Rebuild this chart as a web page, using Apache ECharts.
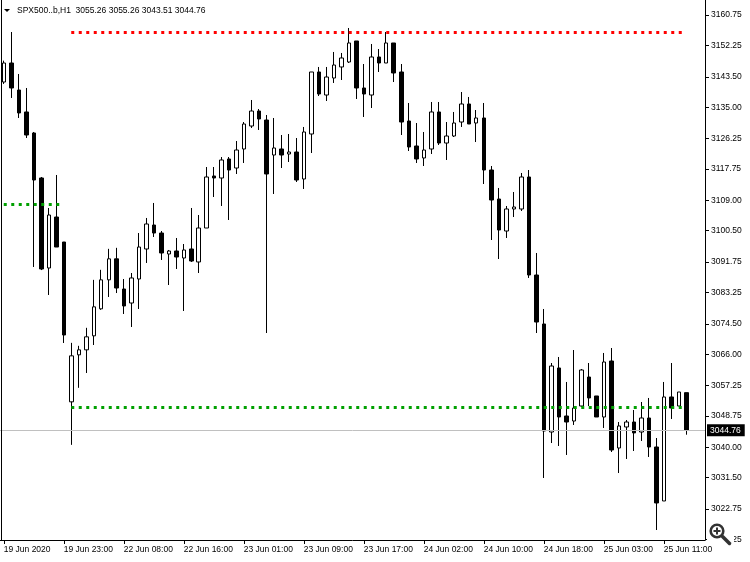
<!DOCTYPE html>
<html><head><meta charset="utf-8">
<script src="https://cdn.jsdelivr.net/npm/echarts@6/dist/echarts.min.js"></script>
<style>html,body{margin:0;padding:0;background:#fff}#c{width:750px;height:562px}</style>
</head><body><div id="c"></div>
<script>
const symbolName = 'SPX500..b,H1';
const times = [
"2020.06.19 15:00","2020.06.19 16:00","2020.06.19 17:00","2020.06.19 18:00","2020.06.19 19:00","2020.06.19 20:00","2020.06.19 21:00","2020.06.19 22:00","2020.06.19 23:00",
"2020.06.22 01:00","2020.06.22 02:00","2020.06.22 03:00","2020.06.22 04:00","2020.06.22 05:00","2020.06.22 06:00","2020.06.22 07:00","2020.06.22 08:00","2020.06.22 09:00","2020.06.22 10:00","2020.06.22 11:00","2020.06.22 12:00","2020.06.22 13:00","2020.06.22 14:00","2020.06.22 15:00","2020.06.22 16:00","2020.06.22 17:00","2020.06.22 18:00","2020.06.22 19:00","2020.06.22 20:00","2020.06.22 21:00","2020.06.22 22:00","2020.06.22 23:00",
"2020.06.23 01:00","2020.06.23 02:00","2020.06.23 03:00","2020.06.23 04:00","2020.06.23 05:00","2020.06.23 06:00","2020.06.23 07:00","2020.06.23 08:00","2020.06.23 09:00","2020.06.23 10:00","2020.06.23 11:00","2020.06.23 12:00","2020.06.23 13:00","2020.06.23 14:00","2020.06.23 15:00","2020.06.23 16:00","2020.06.23 17:00","2020.06.23 18:00","2020.06.23 19:00","2020.06.23 20:00","2020.06.23 21:00","2020.06.23 22:00","2020.06.23 23:00",
"2020.06.24 01:00","2020.06.24 02:00","2020.06.24 03:00","2020.06.24 04:00","2020.06.24 05:00","2020.06.24 06:00","2020.06.24 07:00","2020.06.24 08:00","2020.06.24 09:00","2020.06.24 10:00","2020.06.24 11:00","2020.06.24 12:00","2020.06.24 13:00","2020.06.24 14:00","2020.06.24 15:00","2020.06.24 16:00","2020.06.24 17:00","2020.06.24 18:00","2020.06.24 19:00","2020.06.24 20:00","2020.06.24 21:00","2020.06.24 22:00","2020.06.24 23:00",
"2020.06.25 01:00","2020.06.25 02:00","2020.06.25 03:00","2020.06.25 04:00","2020.06.25 05:00","2020.06.25 06:00","2020.06.25 07:00","2020.06.25 08:00","2020.06.25 09:00","2020.06.25 10:00","2020.06.25 11:00","2020.06.25 12:00","2020.06.25 13:00","2020.06.25 14:00"
];
const opens = [
3142.03,3147.34,3139.80,3133.66,3127.79,3115.22,3090.08,3104.32,3097.34,3052.69,
3065.82,3067.22,3071.13,3078.67,3086.77,3092.64,3084.21,3080.30,3087.01,3095.39,
3102.09,3099.85,3093.99,3094.83,3092.87,3095.39,3091.76,3101.25,3115.78,3115.22,
3120.53,3118.01,3123.32,3129.74,3133.93,3131.42,3121.64,3123.32,3121.92,3122.48,
3114.94,3127.51,3144.83,3138.40,3143.15,3146.23,3147.62,3153.49,3140.36,3138.40,
3149.02,3147.34,3152.93,3144.83,3131.14,3124.16,3120.81,3123.32,3133.66,3124.99,
3126.95,3130.86,3135.89,3130.58,3131.98,3117.45,3109.35,3100.41,3106.56,3106.56,
3115.50,3088.12,3074.44,3044.27,3062.15,3048.74,3047.34,3051.53,3059.63,3054.33,
3048.46,3064.10,3039.80,3045.67,3047.06,3044.27,3048.18,3040.08,3025.00,3054.05,
3051.53,3055.26
];
const closes = [
3147.34,3140.36,3133.38,3127.23,3114.66,3089.80,3104.88,3095.94,3071.36,3065.54,
3067.22,3070.85,3079.23,3086.77,3092.64,3084.49,3079.47,3087.29,3095.94,3102.37,
3099.85,3094.27,3094.83,3093.15,3095.11,3092.03,3101.25,3115.50,3115.22,3120.25,
3117.45,3123.04,3130.30,3133.93,3131.70,3116.34,3123.60,3121.64,3122.48,3114.66,
3128.07,3144.83,3138.68,3143.43,3146.78,3148.74,3152.93,3140.36,3138.68,3149.02,
3147.34,3152.93,3144.55,3130.86,3123.88,3120.53,3123.04,3133.66,3124.99,3126.95,
3130.58,3135.89,3130.30,3131.98,3117.45,3109.07,3100.69,3106.56,3107.12,3115.50,
3088.12,3074.99,3044.55,3062.70,3048.46,3047.06,3050.97,3061.59,3053.77,3048.46,
3063.82,3039.24,3045.95,3047.06,3044.01,3048.18,3040.08,3024.44,3054.05,3050.97,
3055.44,3044.76
];
const lows = [
3141.50,3137.57,3131.98,3126.39,3090.36,3089.50,3082.54,3095.94,3069.13,3040.68,
3056.61,3060.75,3068.57,3078.39,3081.98,3083.09,3077.23,3073.60,3078.63,3091.48,
3098.74,3092.32,3085.33,3089.80,3078.07,3091.76,3088.68,3101.25,3109.91,3107.40,
3103.49,3116.34,3119.41,3129.19,3128.63,3071.92,3110.75,3118.01,3119.69,3114.10,
3112.15,3122.20,3138.12,3136.73,3141.76,3142.59,3147.34,3137.29,3132.26,3134.77,
3144.83,3147.34,3142.03,3127.23,3122.76,3119.41,3118.57,3121.92,3124.44,3120.25,
3126.67,3129.47,3130.30,3125.27,3113.54,3097.90,3092.59,3098.46,3104.32,3106.00,
3087.29,3071.92,3031.42,3041.19,3040.36,3037.85,3046.23,3051.25,3051.53,3048.46,
3045.39,3038.68,3032.81,3036.73,3038.96,3041.76,3037.29,3016.89,3025.00,3047.90,
3051.53,3043.51
];
const highs = [
3148.00,3156.00,3144.27,3140.36,3128.07,3115.50,3106.84,3116.06,3097.34,3069.17,
3068.34,3073.37,3086.77,3089.57,3095.43,3095.71,3087.01,3088.68,3099.85,3104.05,
3108.24,3100.41,3095.11,3098.46,3096.78,3106.84,3104.88,3118.29,3118.29,3121.08,
3121.08,3125.55,3130.86,3137.01,3134.49,3132.82,3131.98,3127.23,3127.51,3126.39,
3129.47,3144.83,3146.23,3146.23,3150.42,3150.14,3157.12,3153.49,3147.06,3152.65,
3151.25,3156.00,3152.93,3147.06,3136.17,3130.58,3128.07,3136.45,3136.45,3130.86,
3133.66,3139.24,3137.85,3134.21,3136.17,3118.57,3112.43,3107.40,3111.31,3116.62,
3117.45,3094.27,3078.63,3063.54,3065.22,3058.24,3067.17,3061.87,3063.54,3054.33,
3066.34,3067.73,3047.06,3047.62,3050.41,3052.65,3053.77,3042.59,3058.24,3063.54,
3055.44,3055.26
];
const xTickLabels = ["19 Jun 2020","19 Jun 23:00","22 Jun 08:00","22 Jun 16:00","23 Jun 01:00","23 Jun 09:00","23 Jun 17:00","24 Jun 02:00","24 Jun 10:00","24 Jun 18:00","25 Jun 03:00","25 Jun 11:00"];
const yTicks = [3014.25,3022.75,3031.50,3040.00,3048.75,3057.25,3066.00,3074.50,3083.25,3091.75,3100.50,3109.00,3117.75,3126.25,3135.00,3143.50,3152.25,3160.75];
const levelRed = 3156.00;
const levelGreenPrev = 3108.00;
const levelGreen = 3051.25;
const bid = 3044.76;

const FONT = 'Liberation Sans';
const FS = 8.5;
const N = times.length;
const cats = times.concat(['', '']);
const tickEvery = 8;
const showIdx = (i) => i % tickEvery === 0 && i < N;
const last = N - 1;

const chart = echarts.init(document.getElementById('c'), null, {renderer: 'canvas'});
const dots = (color) => ({color: color, width: 3, type: [3, 4.5], cap: 'butt'});

chart.setOption({
  animation: false,
  backgroundColor: '#ffffff',
  grid: {left: 0, right: 45, top: 0, bottom: 22, containLabel: false},
  xAxis: {
    type: 'category', data: cats, boundaryGap: true,
    axisLine: {show: true, lineStyle: {color: '#000', width: 1}},
    axisTick: {show: true, alignWithLabel: true, interval: (i) => showIdx(i), length: 4, lineStyle: {color: '#000'}},
    axisLabel: {
      interval: (i) => showIdx(i),
      formatter: (v, i) => xTickLabels[i / tickEvery] || '',
      align: 'left', margin: 5, color: '#000', fontSize: FS, fontFamily: FONT, padding: [0, 0, 0, 0]
    },
    splitLine: {show: false}
  },
  yAxis: {
    type: 'value', position: 'right', min: 3014.10, max: 3164.94, scale: true,
    axisLine: {show: true, lineStyle: {color: '#000', width: 1}},
    axisTick: {show: true, customValues: yTicks, length: 4, lineStyle: {color: '#000'}},
    axisLabel: {customValues: yTicks, formatter: (v) => v.toFixed(2), color: '#000', fontSize: FS, fontFamily: FONT, margin: 6},
    splitLine: {show: false}
  },
  series: [{
    type: 'candlestick',
    data: times.map((t, i) => [opens[i], closes[i], lows[i], highs[i]]),
    barWidth: 4,
    itemStyle: {color: '#ffffff', color0: '#000000', borderColor: '#000000', borderColor0: '#000000', borderWidth: 1},
    markLine: {
      silent: true, symbol: ['none', 'none'], animation: false,
      label: {show: false},
      data: [
        {yAxis: bid, lineStyle: {color: '#c0c0c0', width: 1, type: 'solid'},
         label: {show: true, position: 'end', formatter: bid.toFixed(2), color: '#fff', backgroundColor: '#000',
                 padding: [2, 4, 1, 3], fontSize: FS, fontFamily: FONT, distance: 2}},
        [{coord: [9, levelRed], lineStyle: dots('#ff0000')}, {coord: [last, levelRed]}],
        [{coord: [0, levelGreenPrev], lineStyle: dots('#00a000')}, {coord: [8, levelGreenPrev]}],
        [{coord: [9, levelGreen], lineStyle: dots('#00a000')}, {coord: [last, levelGreen]}]
      ]
    }
  }],
  graphic: [
    {type: 'line', shape: {x1: 1.5, y1: 0, x2: 1.5, y2: 540}, style: {stroke: '#000', lineWidth: 1}, z: 100},
    {type: 'polygon', shape: {points: [[4, 9], [10, 9], [7, 12]]}, style: {fill: '#000'}, z: 100},
    {type: 'text', x: 17, y: 6, z: 100,
     style: {text: symbolName + '  ' + [opens[last], highs[last], lows[last], closes[last]].map(v => v.toFixed(2)).join(' '),
             fill: '#000', font: FS + 'px ' + FONT}},
    {type: 'rect', shape: {x: 707, y: 521, width: 27, height: 24}, style: {fill: '#fff'}, z: 100},
    {type: 'circle', shape: {cx: 717, cy: 531, r: 6.3}, style: {fill: '#fff', stroke: '#333', lineWidth: 2.6}, z: 101},
    {type: 'line', shape: {x1: 713.5, y1: 531, x2: 720.5, y2: 531}, style: {stroke: '#333', lineWidth: 2}, z: 102},
    {type: 'line', shape: {x1: 717, y1: 527.5, x2: 717, y2: 534.5}, style: {stroke: '#333', lineWidth: 2}, z: 102},
    {type: 'line', shape: {x1: 722.5, y1: 536.5, x2: 729.5, y2: 543.5}, style: {stroke: '#333', lineWidth: 3.5, lineCap: 'round'}, z: 102}
  ]
});
</script>
</body></html>
